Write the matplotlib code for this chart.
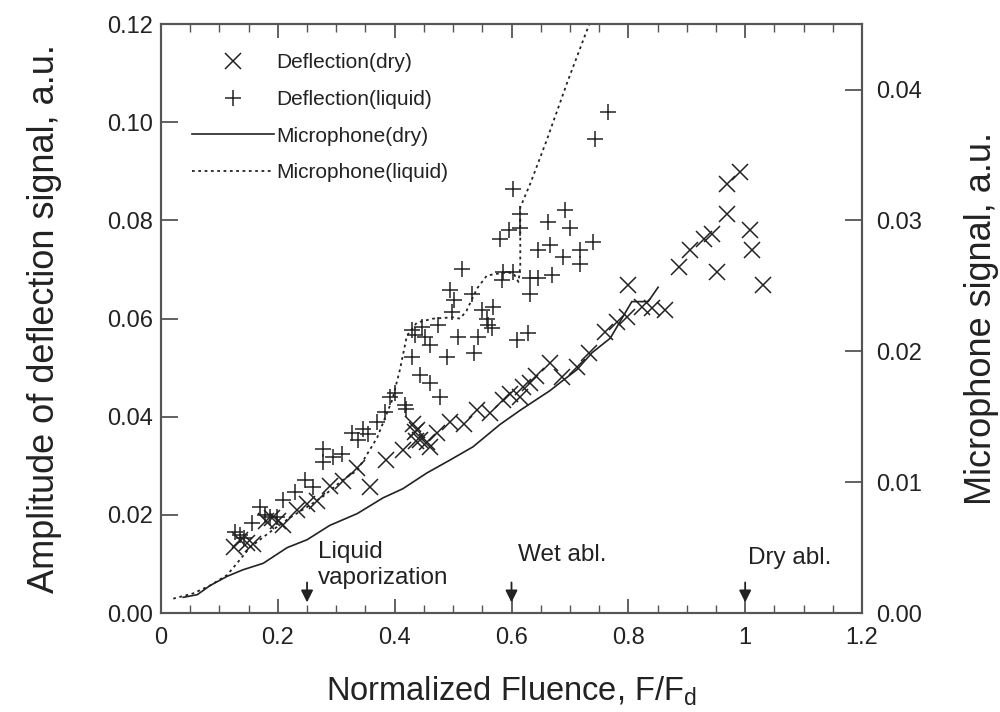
import matplotlib
matplotlib.use('Agg')
import matplotlib.pyplot as plt
from matplotlib.lines import Line2D
from matplotlib.ticker import MultipleLocator

# Data - Deflection (dry)
dry_x = [0.125, 0.135, 0.147, 0.158, 0.18, 0.19, 0.2, 0.209, 0.232, 0.25, 0.267, 0.289,
         0.312, 0.335, 0.357, 0.386, 0.415, 0.432, 0.435, 0.437, 0.438, 0.443, 0.455, 0.46,
         0.472, 0.495, 0.518, 0.541, 0.563, 0.586, 0.598, 0.615, 0.62, 0.632, 0.642, 0.666,
         0.686, 0.712, 0.732, 0.76, 0.78, 0.797, 0.80, 0.823, 0.84, 0.863, 0.886, 0.906,
         0.929, 0.943, 0.951, 0.969, 0.969, 0.991, 1.009, 1.011, 1.031]
dry_y = [0.0135, 0.0148, 0.0143, 0.014, 0.0188, 0.0193, 0.0188, 0.018, 0.021, 0.0222, 0.0228, 0.0258,
         0.027, 0.0296, 0.0256, 0.0312, 0.0332, 0.0386, 0.0369, 0.035, 0.0373, 0.0352, 0.0349, 0.0339,
         0.0366, 0.039, 0.0386, 0.0414, 0.0407, 0.0434, 0.0447, 0.0441, 0.0461, 0.0468, 0.0483, 0.0509,
         0.0481, 0.0502, 0.0529, 0.0573, 0.0593, 0.0604, 0.0668, 0.0624, 0.0621, 0.0617, 0.0705, 0.0739,
         0.0763, 0.0773, 0.0695, 0.0814, 0.0875, 0.0899, 0.078, 0.0739, 0.0668]

# Data - Deflection (liquid)
liq_x = [0.127, 0.135, 0.142, 0.155, 0.170, 0.178, 0.187, 0.198, 0.209, 0.229, 0.247, 0.261,
         0.278, 0.278, 0.295, 0.31, 0.327, 0.338, 0.346, 0.355, 0.369, 0.384, 0.392, 0.401,
         0.418, 0.42, 0.429, 0.434, 0.446, 0.452, 0.46, 0.429, 0.443, 0.46, 0.478, 0.475,
         0.495, 0.501, 0.498, 0.515, 0.489, 0.509, 0.532, 0.535, 0.543, 0.549, 0.558, 0.56,
         0.566, 0.569, 0.583, 0.586, 0.603, 0.58, 0.595, 0.609, 0.629, 0.632, 0.632, 0.646,
         0.669, 0.603, 0.615, 0.615, 0.663, 0.692, 0.70, 0.646, 0.666, 0.689, 0.717, 0.717,
         0.74, 0.743, 0.766]
liq_y = [0.0166, 0.0159, 0.0152, 0.0183, 0.0217, 0.020, 0.0196, 0.0196, 0.023, 0.0247, 0.0272, 0.0257,
         0.0335, 0.0308, 0.0318, 0.0325, 0.0366, 0.0352, 0.0376, 0.0364, 0.039, 0.041, 0.0441, 0.0448,
         0.0424, 0.0415, 0.0576, 0.0566, 0.0583, 0.0563, 0.0546, 0.0522, 0.0485, 0.0468, 0.0441, 0.0587,
         0.0658, 0.0638, 0.0614, 0.0702, 0.0522, 0.0563, 0.0651, 0.0529, 0.0563, 0.0617, 0.060, 0.0587,
         0.058, 0.0624, 0.0678, 0.0695, 0.0695, 0.0763, 0.078, 0.0556, 0.057, 0.0651, 0.0682, 0.0682,
         0.0688, 0.0865, 0.0814, 0.0784, 0.0797, 0.0822, 0.0784, 0.0739, 0.075, 0.0726, 0.0739, 0.0712,
         0.0756, 0.0967, 0.1021]

# Data - Microphone (dry), right axis
mic_dry_x = [0.038, 0.062, 0.084, 0.113, 0.14, 0.175, 0.216, 0.25, 0.289, 0.336, 0.38, 0.414,
             0.455, 0.495, 0.534, 0.58, 0.615, 0.666, 0.683, 0.712, 0.738, 0.769, 0.806, 0.834, 0.851]
mic_dry_y = [0.0012, 0.0014, 0.0021, 0.0028, 0.0033, 0.0038, 0.0050, 0.0056, 0.0067, 0.0076, 0.0088, 0.0095,
             0.0107, 0.0117, 0.0127, 0.0144, 0.0155, 0.0170, 0.0176, 0.0186, 0.0199, 0.021, 0.0238, 0.0238, 0.0249]

# Data - Microphone (liquid), right axis
mic_liq_x = [0.021, 0.055, 0.084, 0.113, 0.13, 0.152, 0.175, 0.199, 0.221, 0.25, 0.277, 0.312,
             0.336, 0.37, 0.396, 0.409, 0.421, 0.438, 0.466, 0.50, 0.512, 0.523, 0.541, 0.558,
             0.586, 0.603, 0.612, 0.615, 0.615, 0.632, 0.66, 0.695, 0.75]
mic_liq_y = [0.0011, 0.0015, 0.0021, 0.0029, 0.0038, 0.0050, 0.0058, 0.0066, 0.0073, 0.0081, 0.0089, 0.0102,
             0.0109, 0.0134, 0.0163, 0.0186, 0.0212, 0.0222, 0.0225, 0.0226, 0.0225, 0.0231, 0.0248, 0.0258,
             0.026, 0.026, 0.0253, 0.0265, 0.031, 0.0328, 0.0361, 0.0405, 0.0470]

# Annotations
arrow_x = [0.25, 0.6, 1.0]
notes = ['Liquid\nvaporization', 'Wet abl.', 'Dry abl.']
notes_x = [0.269, 0.611, 1.005]
notes_y = [0.0146, 0.0140, 0.0135]

# Setup
plt.rcParams['font.family'] = ['Liberation Sans', 'DejaVu Sans']
ink = '#222222'
spine_col = '#555555'

fig = plt.figure(figsize=(10, 7.12), dpi=100)
ax = fig.add_axes([0.161, 0.139, 0.701, 0.827])
ax2 = ax.twinx()

# Plot deflection
ax.plot(dry_x, dry_y, linestyle='none', marker='x', markersize=11, markeredgewidth=1.1, color=ink)
ax.plot(liq_x, liq_y, linestyle='none', marker='+', markersize=12, markeredgewidth=1.1, color=ink)

# Plot microphone
ax2.plot(mic_dry_x, mic_dry_y, '-', color=ink, linewidth=1.2)
ax2.plot(mic_liq_x, mic_liq_y, color=ink, linewidth=1.3, linestyle=(0, (1.5, 2.0)))

# Axis limits
ax.set_xlim(0, 1.2)
ax.set_ylim(0, 0.12)
ax2.set_ylim(0, 0.045)

# Ticks
ax.set_xticks([0, 0.2, 0.4, 0.6, 0.8, 1.0, 1.2])
ax.set_xticklabels(['0', '0.2', '0.4', '0.6', '0.8', '1', '1.2'])
ax.xaxis.set_minor_locator(MultipleLocator(0.05))
ax.set_yticks([0, 0.02, 0.04, 0.06, 0.08, 0.10, 0.12])
ax.set_yticklabels(['0.00', '0.02', '0.04', '0.06', '0.08', '0.10', '0.12'])
ax2.set_yticks([0, 0.01, 0.02, 0.03, 0.04])
ax2.set_yticklabels(['0.00', '0.01', '0.02', '0.03', '0.04'])

ax.tick_params(axis='x', which='major', direction='in', top=True, length=10, width=1.3,
               colors=spine_col, labelcolor=ink, labelsize=17, pad=10)
ax.tick_params(axis='x', which='minor', direction='in', top=True, length=6, width=1.0, colors=spine_col)
ax.tick_params(axis='y', which='major', direction='in', length=12, width=1.3,
               colors=spine_col, labelcolor=ink, labelsize=17, pad=6)
ax2.tick_params(axis='y', which='major', direction='in', length=12, width=1.3,
                colors=spine_col, labelcolor=ink, labelsize=17, pad=10)

for a in [ax, ax2]:
    for s in a.spines.values():
        s.set_color(spine_col)
        s.set_linewidth(1.5)

# Labels
ax.set_xlabel('Normalized Fluence, F/F$_\\mathregular{d}$', fontsize=23.5, color=ink)
ax.xaxis.set_label_coords(0.5, -0.104)
ax.set_ylabel('Amplitude of deflection signal, a.u.', fontsize=26, color=ink)
ax.yaxis.set_label_coords(-0.141, 0.5)
ax2.set_ylabel('Microphone signal, a.u.', fontsize=26, color=ink)
ax2.yaxis.set_label_coords(1.145, 0.5)

# Arrows and notes
for xa in arrow_x:
    ax.annotate('', xy=(xa, 0.0016), xytext=(xa, 0.0068),
                arrowprops=dict(arrowstyle='-|>', color=ink, lw=1.3, mutation_scale=18))
for t, xt, yt in zip(notes, notes_x, notes_y):
    ax.text(xt, yt, t, fontsize=17.5, color=ink, va='top', ha='left', linespacing=1.2)

# Legend
handles = [Line2D([], [], linestyle='none', marker='x', markersize=11, markeredgewidth=1.1, color=ink),
           Line2D([], [], linestyle='none', marker='+', markersize=12, markeredgewidth=1.1, color=ink),
           Line2D([], [], linestyle='-', linewidth=1.2, color=ink),
           Line2D([], [], linewidth=1.3, linestyle=(0, (1.5, 2.0)), color=ink)]
labels = ['Deflection(dry)', 'Deflection(liquid)', 'Microphone(dry)', 'Microphone(liquid)']
leg = ax.legend(handles, labels, loc='upper left', bbox_to_anchor=(0.182, 0.94),
                bbox_transform=fig.transFigure, frameon=False, fontsize=15,
                handlelength=3.9, handletextpad=0.1, labelspacing=0.85, borderpad=0)
for t in leg.get_texts():
    t.set_color(ink)

fig.savefig('out.png', dpi=100)
plt.close()
